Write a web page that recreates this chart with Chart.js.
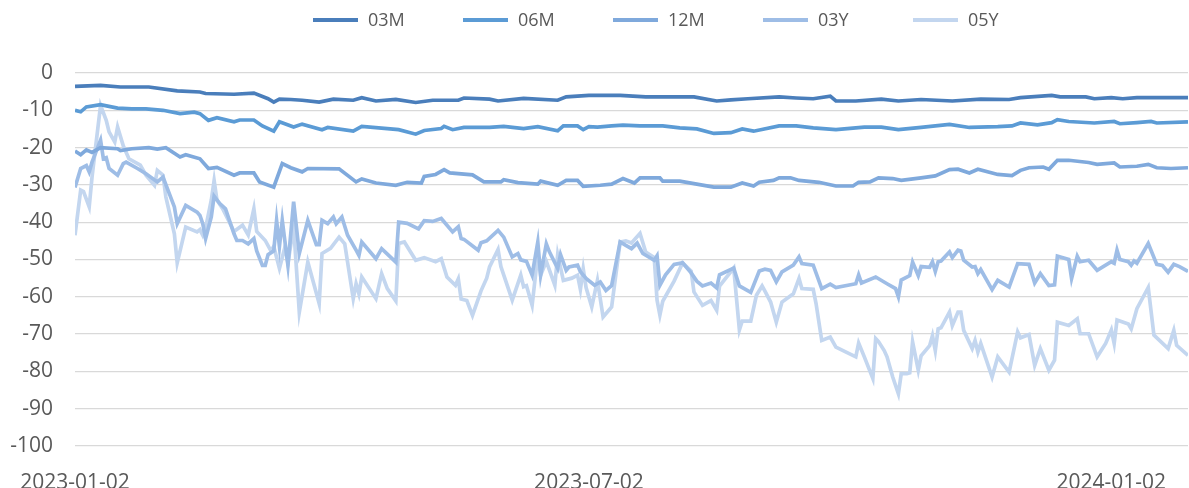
<!DOCTYPE html>
<html>
<head>
<meta charset="utf-8">
<script src="https://cdn.jsdelivr.net/npm/chart.js@4.4.1/dist/chart.umd.min.js"></script>
<style>
  html, body { margin: 0; padding: 0; background: #fff; }
  #wrap { width: 1189px; height: 488px; position: relative; }
</style>
</head>
<body>
<div id="wrap"><canvas id="cv"></canvas></div>
<script>
// x values are days counted from 2023-01-02
const tickDays = [0, 181, 365];
const tickLabels = ['2023-01-02', '2023-07-02', '2024-01-02'];
const yTicks = [0, -10, -20, -30, -40, -50, -60, -70, -80, -90, -100];

const days03M = [0, 9, 16, 26, 36, 44, 46, 56, 63, 68, 70, 72, 76, 80, 86, 91, 98, 101, 106, 113, 120, 126, 135, 137, 146, 149, 158, 170, 173, 181, 184, 192, 201, 211, 218, 226, 231, 237, 248, 254, 260, 266, 268, 275, 284, 290, 298, 309, 319, 329, 333, 344, 347, 356, 359, 365, 369, 374, 392];
const vals03M = [-3.6, -3.3, -3.75, -3.75, -4.8, -5.1, -5.5, -5.7, -5.4, -6.9, -7.8, -7.0, -7.1, -7.3, -7.8, -7.0, -7.3, -6.6, -7.5, -7.1, -7.9, -7.3, -7.3, -6.7, -7.0, -7.5, -6.8, -7.3, -6.4, -6.0, -6.0, -6.0, -6.4, -6.4, -6.4, -7.5, -7.2, -6.9, -6.4, -6.7, -6.9, -6.2, -7.5, -7.5, -7.0, -7.5, -7.1, -7.5, -7.0, -7.1, -6.6, -6.0, -6.4, -6.4, -6.9, -6.6, -6.9, -6.6, -6.6];

const days06M = [0, 2, 4, 9, 15, 20, 25, 31, 37, 42, 44, 47, 50, 56, 58, 63, 66, 70, 72, 77, 80, 87, 89, 98, 101, 114, 120, 123, 129, 130, 133, 137, 146, 151, 158, 163, 170, 172, 177, 179, 181, 184, 189, 193, 199, 207, 213, 219, 225, 231, 235, 239, 248, 254, 260, 268, 278, 284, 290, 298, 308, 315, 325, 330, 333, 339, 344, 346, 350, 359, 366, 368, 374, 379, 381, 392];
const vals06M = [-10.0, -10.4, -9.1, -8.5, -9.4, -9.6, -9.6, -10.0, -10.9, -10.5, -10.9, -12.7, -12.0, -13.1, -12.6, -12.6, -14.2, -15.6, -13.1, -14.5, -13.7, -15.2, -14.6, -15.6, -14.3, -15.2, -16.4, -15.4, -14.9, -14.3, -15.2, -14.6, -14.6, -14.3, -14.9, -14.4, -15.5, -14.2, -14.2, -15.2, -14.4, -14.5, -14.2, -14.0, -14.2, -14.2, -14.7, -15.0, -16.2, -16.0, -15.0, -15.6, -14.2, -14.2, -14.7, -15.2, -14.5, -14.5, -15.2, -14.6, -13.8, -14.6, -14.4, -14.2, -13.4, -13.9, -13.3, -12.5, -13.0, -13.4, -13.0, -13.6, -13.3, -13.0, -13.4, -13.1];

const days12M = [0, 2, 4, 6, 9, 15, 16, 20, 26, 29, 32, 37, 39, 44, 47, 50, 56, 58, 63, 65, 70, 73, 76, 80, 82, 93, 99, 101, 106, 113, 117, 122, 123, 127, 130, 132, 140, 144, 150, 151, 156, 163, 164, 170, 173, 177, 179, 185, 189, 193, 197, 199, 206, 207, 213, 225, 231, 235, 239, 241, 246, 248, 252, 255, 262, 268, 274, 276, 280, 283, 288, 291, 298, 303, 308, 311, 315, 318, 325, 330, 333, 336, 341, 343, 346, 350, 357, 360, 366, 368, 374, 378, 381, 386, 392];
const vals12M = [-20.9, -21.9, -20.6, -21.3, -20.0, -20.3, -20.8, -20.3, -20.0, -20.4, -20.0, -22.5, -21.9, -23.0, -25.6, -25.3, -27.4, -26.8, -26.8, -29.2, -30.6, -24.3, -25.4, -26.5, -25.6, -25.7, -29.2, -28.4, -29.5, -30.1, -29.3, -29.5, -27.7, -27.2, -25.9, -26.8, -27.3, -29.2, -29.2, -28.6, -29.4, -29.8, -29.0, -30.1, -28.8, -28.8, -30.4, -30.1, -29.8, -28.3, -29.5, -28.1, -28.1, -29.0, -29.0, -30.6, -30.6, -29.5, -30.3, -29.3, -28.8, -28.1, -28.1, -28.8, -29.3, -30.3, -30.3, -29.3, -29.2, -28.1, -28.3, -28.8, -28.1, -27.6, -25.9, -25.8, -26.8, -25.8, -27.2, -27.5, -26.1, -25.4, -25.2, -25.8, -23.4, -23.4, -24.0, -24.5, -24.1, -25.2, -25.0, -24.5, -25.4, -25.6, -25.4];

const days03Y = [0, 2, 4, 5, 6, 9, 10, 11, 12, 15, 17, 18, 22, 25, 29, 31, 35, 36, 39, 43, 44, 45, 46, 48, 49, 51, 53, 56, 57, 59, 61, 63, 64, 66, 67, 68, 70, 71, 72, 73, 75, 77, 79, 82, 85, 86, 87, 89, 91, 92, 94, 96, 99, 100, 101, 106, 108, 113, 114, 117, 121, 123, 126, 129, 133, 135, 136, 137, 142, 143, 145, 149, 151, 154, 156, 157, 159, 161, 163, 164, 166, 167, 170, 171, 173, 174, 177, 178, 180, 183, 185, 187, 189, 192, 194, 196, 198, 200, 204, 205, 206, 208, 211, 214, 217, 219, 221, 224, 226, 227, 232, 234, 238, 241, 243, 245, 247, 249, 253, 255, 256, 260, 263, 266, 268, 275, 276, 277, 282, 286, 289, 290, 291, 294, 295, 297, 298, 301, 302, 303, 304, 305, 308, 309, 311, 312, 313, 316, 317, 318, 319, 323, 325, 329, 332, 336, 338, 340, 343, 345, 346, 350, 351, 353, 354, 357, 360, 365, 366, 367, 368, 371, 372, 373, 374, 378, 381, 383, 385, 387, 389, 392];
const vals03Y = [-30.7, -25.6, -24.8, -26.5, -23.9, -18.0, -23.0, -22.7, -25.6, -27.4, -24.3, -23.9, -25.6, -27.0, -29.2, -27.9, -35.9, -40.4, -35.5, -37.3, -38.2, -40.4, -44.4, -38.6, -33.0, -35.0, -36.4, -43.1, -44.9, -44.9, -45.8, -44.4, -47.7, -51.6, -51.6, -48.7, -47.7, -39.5, -46.5, -39.5, -51.6, -34.5, -48.4, -39.5, -46.0, -46.0, -39.5, -40.4, -38.6, -40.4, -38.6, -43.5, -47.5, -48.9, -45.3, -49.8, -47.1, -50.7, -40.0, -40.3, -41.8, -39.6, -39.8, -39.0, -42.6, -41.2, -44.4, -44.6, -47.5, -45.5, -45.0, -42.2, -44.0, -49.3, -48.4, -50.1, -50.5, -54.2, -45.3, -54.2, -45.8, -47.8, -52.4, -48.7, -52.9, -52.0, -51.5, -53.3, -55.1, -56.9, -56.0, -58.3, -57.0, -45.3, -46.2, -47.1, -45.6, -48.4, -50.2, -49.0, -56.9, -54.1, -51.3, -50.9, -53.6, -55.8, -57.1, -56.3, -57.6, -54.1, -52.3, -57.1, -58.8, -53.1, -52.6, -52.9, -56.0, -53.3, -51.5, -49.3, -51.1, -51.5, -57.8, -56.6, -57.5, -56.5, -54.1, -56.3, -54.7, -56.5, -57.8, -60.0, -55.5, -54.3, -50.7, -54.3, -51.9, -52.1, -50.6, -53.2, -50.6, -50.4, -48.0, -49.5, -47.5, -47.7, -50.2, -52.0, -51.9, -53.8, -52.7, -58.1, -55.6, -57.4, -51.1, -51.3, -56.3, -53.8, -57.0, -56.8, -49.1, -50.0, -55.1, -49.1, -50.6, -50.2, -52.9, -50.6, -51.0, -47.5, -50.0, -50.6, -51.5, -50.4, -51.0, -45.7, -51.3, -51.6, -53.4, -51.3, -51.9, -53.2];

const days05Y = [0, 2, 3, 5, 6, 9, 11, 12, 14, 15, 17, 19, 23, 25, 28, 29, 31, 32, 35, 36, 39, 43, 44, 45, 46, 48, 49, 50, 52, 56, 59, 61, 63, 64, 67, 69, 70, 72, 74, 75, 77, 79, 82, 86, 87, 90, 93, 95, 98, 99, 100, 101, 106, 108, 110, 113, 114, 116, 120, 123, 127, 129, 131, 134, 135, 136, 138, 140, 143, 145, 146, 149, 150, 154, 157, 158, 159, 161, 163, 164, 166, 169, 170, 172, 175, 177, 178, 179, 180, 182, 184, 186, 189, 192, 194, 196, 199, 201, 204, 205, 206, 207, 211, 214, 217, 218, 221, 224, 226, 227, 232, 234, 235, 238, 240, 242, 243, 245, 247, 249, 253, 255, 256, 260, 261, 263, 266, 268, 275, 276, 278, 281, 282, 283, 285, 286, 288, 290, 291, 293, 294, 295, 297, 298, 301, 302, 303, 304, 305, 308, 309, 311, 312, 313, 316, 317, 318, 319, 323, 325, 329, 332, 333, 336, 338, 340, 343, 345, 346, 350, 353, 354, 357, 360, 363, 365, 366, 367, 371, 372, 374, 378, 380, 385, 387, 388, 392];
const vals05Y = [-43.5, -31.4, -31.8, -35.9, -27.9, -8.7, -12.7, -15.8, -18.5, -14.5, -19.5, -23.0, -24.7, -27.4, -30.1, -26.1, -27.4, -33.2, -43.1, -50.9, -41.3, -42.6, -42.0, -43.5, -41.6, -34.1, -28.8, -34.1, -36.4, -42.5, -40.8, -43.4, -36.4, -42.5, -44.9, -47.7, -46.5, -52.4, -46.5, -51.0, -41.0, -64.1, -50.7, -61.8, -48.4, -47.0, -44.0, -45.8, -60.5, -56.5, -59.2, -54.7, -60.5, -53.8, -57.8, -61.1, -45.7, -45.3, -50.2, -49.5, -50.6, -49.8, -54.7, -56.9, -55.2, -60.6, -61.0, -65.0, -58.4, -55.0, -52.0, -47.3, -51.9, -60.9, -54.2, -57.3, -57.0, -62.3, -48.7, -54.2, -50.5, -56.9, -48.7, -55.6, -55.0, -54.2, -58.0, -52.5, -57.5, -62.7, -55.6, -65.4, -62.7, -45.3, -45.0, -45.6, -43.0, -48.0, -49.5, -60.9, -64.9, -61.2, -55.8, -50.9, -53.1, -58.7, -62.3, -61.0, -63.6, -57.1, -52.3, -68.9, -66.5, -66.5, -59.6, -57.1, -58.5, -61.4, -66.8, -61.4, -59.2, -55.1, -57.8, -58.0, -61.8, -71.7, -70.8, -73.5, -76.1, -72.4, -76.1, -81.9, -71.2, -72.0, -74.4, -76.1, -81.5, -86.0, -80.6, -80.6, -80.4, -72.1, -79.7, -75.8, -73.1, -70.4, -74.4, -68.6, -68.3, -64.1, -67.7, -64.1, -64.1, -69.0, -73.9, -71.7, -74.8, -72.5, -81.5, -76.1, -80.2, -69.4, -71.0, -70.1, -78.4, -73.9, -79.7, -77.0, -66.8, -67.7, -65.9, -69.9, -69.9, -76.1, -72.5, -68.9, -72.5, -66.2, -67.3, -68.6, -63.2, -57.5, -70.3, -73.9, -69.0, -73.0, -75.7];

const seriesNames = ['03M', '06M', '12M', '03Y', '05Y'];
const seriesColors = ['#4a7ebb', '#5b9bd5', '#7fa9dc', '#9ebde6', '#c3d6ef'];
const seriesDays = [days03M, days06M, days12M, days03Y, days05Y];
const seriesVals = [vals03M, vals06M, vals12M, vals03Y, vals05Y];

const FONT = "'Open Sans', 'Liberation Sans', sans-serif";
const TXT = '#595959';

// legend drawn by hand so it can sit high above the plot like the original
const topLegend = {
  id: 'topLegend',
  afterDraw(chart) {
    const ctx = chart.ctx;
    const y = 20, lineLen = 45, gap = 10, step = 150;
    let x = 313;
    ctx.save();
    ctx.font = '18px ' + FONT;
    ctx.textBaseline = 'middle';
    ctx.textAlign = 'left';
    chart.data.datasets.forEach(ds => {
      ctx.strokeStyle = ds.borderColor;
      ctx.lineWidth = 4;
      ctx.beginPath();
      ctx.moveTo(x, y);
      ctx.lineTo(x + lineLen, y);
      ctx.stroke();
      ctx.fillStyle = TXT;
      ctx.fillText(ds.label, x + lineLen + gap, y + 1);
      x += step;
    });
    ctx.restore();
  }
};

const datasets = seriesNames.map((name, k) => ({
  label: name,
  data: seriesDays[k].map((d, i) => ({ x: d, y: seriesVals[k][i] })),
  borderColor: seriesColors[k],
  backgroundColor: seriesColors[k],
  borderWidth: 3.7,
  pointRadius: 0,
  tension: 0,
  order: k
}));

new Chart(document.getElementById('cv').getContext('2d'), {
  type: 'line',
  data: { datasets },
  plugins: [topLegend],
  options: {
    responsive: true,
    maintainAspectRatio: false,
    animation: false,
    layout: { padding: { left: 0, right: 1, top: 73, bottom: 0 } },
    plugins: {
      tooltip: { enabled: false },
      legend: { display: false }
    },
    scales: {
      x: {
        type: 'linear',
        min: 0,
        max: 392,
        grid: { display: false },
        border: { display: false },
        afterBuildTicks: s => { s.ticks = tickDays.map(v => ({ value: v })); },
        afterFit: s => { s.height = 42; },
        ticks: {
          autoSkip: false,
          maxRotation: 0,
          padding: 16,
          color: TXT,
          font: { family: FONT, size: 21 },
          callback: v => tickLabels[tickDays.indexOf(v)]
        }
      },
      y: {
        min: -100,
        max: 0,
        afterBuildTicks: s => { s.ticks = yTicks.map(v => ({ value: v })); },
        afterFit: s => { s.width = 75; },
        grid: { color: '#d9d9d9', lineWidth: 1.3, drawTicks: false },
        border: { display: false },
        ticks: {
          padding: 22,
          color: TXT,
          font: { family: FONT, size: 21 }
        }
      }
    }
  }
});
</script>
</body>
</html>
